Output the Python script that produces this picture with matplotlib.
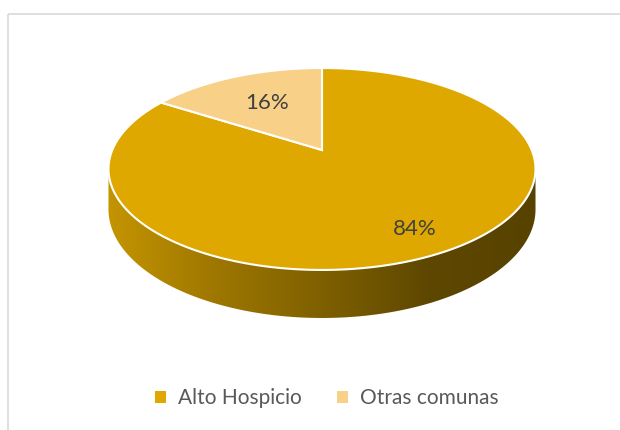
import numpy as np
import matplotlib
matplotlib.use("Agg")
import matplotlib.pyplot as plt
from matplotlib.patches import Polygon, Rectangle, Patch
from matplotlib.colors import LinearSegmentedColormap

# ---- data ----
categories = ["Alto Hospicio", "Otras comunas"]
values = [84, 16]
labels = ["84%", "16%"]

# ---- style ----
colors = ["#DFA800", "#F9D088"]
label_r = [0.8, 0.6]
plt.rcParams["font.family"] = ["Lato", "DejaVu Sans"]

# projection parameters (pixel space)
CX, CY = 322.0, 150.0
W, S, K, D = 209.7, 97.4, 0.188, 39.0


def proj(X, Y, z=0.0):
    f = 1.0 / (1.0 + K * Y)
    return CX + W * X * f, CY - S * Y * f + z * D * f


def clock_pts(c0, c1, r=1.0, z=0.0, n=300):
    c = np.radians(np.linspace(c0, c1, n))
    return proj(r * np.sin(c), r * np.cos(c), z)


fig = plt.figure(figsize=(6.2, 4.3), dpi=100)
ax = fig.add_axes([0, 0, 1, 1])
ax.set_xlim(0, 620)
ax.set_ylim(430, 0)
ax.axis("off")

# chart border
ax.add_patch(Rectangle((8, 14), 640, 440, fill=False, edgecolor="#D9D9D9", lw=1.2, zorder=0))

# side (front wall)
cL = 360 - np.degrees(np.arccos(-K))
cR = np.degrees(np.arccos(-K))
tx, ty = clock_pts(cR, cL, z=0)
bx, by = clock_pts(cL, cR, z=1)
side_xy = np.column_stack([np.r_[tx, bx], np.r_[ty, by]])
side = Polygon(side_xy, closed=True, facecolor="none", edgecolor="none", zorder=1)
ax.add_patch(side)
cmap = LinearSegmentedColormap.from_list("side", ["#C49400", "#9E7700", "#7F6000", "#5E4700", "#574200"])
grad = np.linspace(0, 1, 256).reshape(1, -1)
im = ax.imshow(grad, cmap=cmap, extent=[side_xy[:, 0].min(), side_xy[:, 0].max(),
                                        side_xy[:, 1].max(), side_xy[:, 1].min()],
               aspect="auto", zorder=1, interpolation="bilinear")
im.set_clip_path(side)
ax.set_xlim(0, 620)
ax.set_ylim(430, 0)

# top wedges (Excel: clockwise from 12 o'clock)
total = float(sum(values))
start = 0.0
for v, col, lab, lr in zip(values, colors, labels, label_r):
    span = 360.0 * v / total
    ax_, ay_ = clock_pts(start, start + span)
    pts = np.column_stack([np.r_[CX, ax_], np.r_[CY, ay_]])
    ax.add_patch(Polygon(pts, closed=True, facecolor=col, edgecolor="white", lw=1.5, zorder=2))
    mid = np.radians(start + span / 2)
    lx, ly = proj(lr * np.sin(mid), lr * np.cos(mid))
    ax.text(lx, ly, lab, ha="center", va="center", fontsize=16, color="#404040", zorder=3)
    start += span

handles = [Patch(facecolor=c, edgecolor="none") for c in colors]
ax.legend(handles, categories, loc="center", bbox_to_anchor=(327 / 620, 1 - 398 / 430),
          ncol=2, frameon=False, fontsize=15, labelcolor="#595959",
          handlelength=0.5, handleheight=0.5, handletextpad=0.6, columnspacing=1.7)

fig.savefig("out.png", dpi=100)
